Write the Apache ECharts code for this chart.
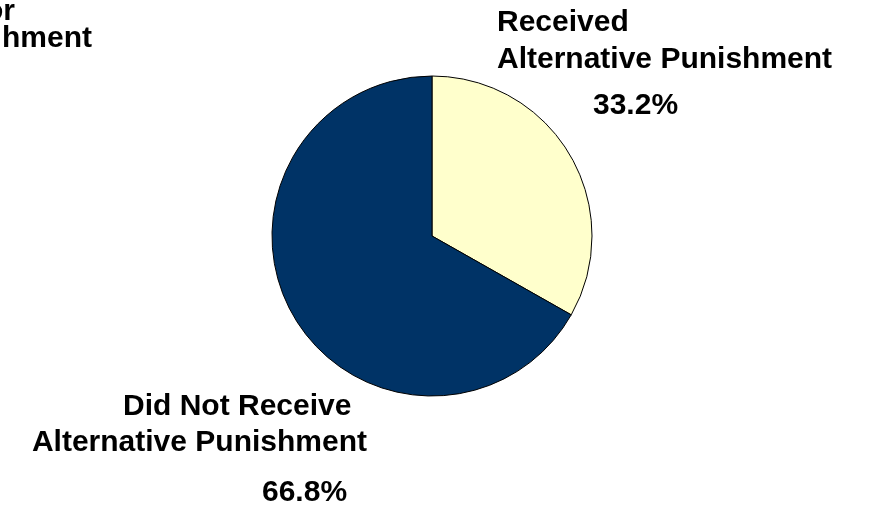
<!DOCTYPE html>
<html>
<head>
<meta charset="utf-8">
<script src="https://cdn.jsdelivr.net/npm/echarts@6/dist/echarts.min.js"></script>
<style>
html,body{margin:0;padding:0;background:#fff;}
#chart{width:872px;height:508px;}
</style>
</head>
<body>
<div id="chart"></div>
<script>
// Data
const categories = ['Received\nAlternative Punishment', 'Did Not Receive\nAlternative Punishment'];
const values = [33.2, 66.8];
const clippedTitleLines = ['or', 'hment'];

const FONT = 'bold 30px "Liberation Sans", Arial, sans-serif';
const sliceColors = ['#FFFFCC', '#003366'];

// label layout (positions only): per category -> line anchors and percent anchor
const labelLayout = [
  { lines: [{x: 497, y: 23, align: 'left'}, {x: 497, y: 60, align: 'left'}], pct: {x: 593, y: 106, align: 'left'} },
  { lines: [{x: 123, y: 407, align: 'left'}, {x: 367, y: 443, align: 'right'}], pct: {x: 262, y: 493, align: 'left'} }
];
const titleLayout = [{x: 15, y: 12, align: 'right'}, {x: 92, y: 39, align: 'right'}];

const graphics = [];
categories.forEach((cat, i) => {
  const lines = cat.split('\n');
  lines.forEach((ln, j) => {
    const p = labelLayout[i].lines[j];
    graphics.push({type: 'text', x: p.x, y: p.y, silent: true,
      style: {text: ln, font: FONT, fill: '#000', textAlign: p.align, textVerticalAlign: 'middle'}});
  });
  const q = labelLayout[i].pct;
  graphics.push({type: 'text', x: q.x, y: q.y, silent: true,
    style: {text: values[i].toFixed(1) + '%', font: FONT, fill: '#000', textAlign: q.align, textVerticalAlign: 'middle'}});
});
clippedTitleLines.forEach((t, j) => {
  const p = titleLayout[j];
  graphics.push({type: 'text', x: p.x, y: p.y, silent: true,
    style: {text: t, font: FONT, fill: '#000', textAlign: p.align, textVerticalAlign: 'middle'}});
});

const chart = echarts.init(document.getElementById('chart'), null, {renderer: 'canvas'});
chart.setOption({
  animation: false,
  backgroundColor: '#ffffff',
  graphic: graphics,
  series: [{
    type: 'pie',
    center: [432, 236],
    radius: 160,
    startAngle: 90,
    clockwise: true,
    label: {show: false},
    labelLine: {show: false},
    emphasis: {disabled: true},
    itemStyle: {borderColor: '#000000', borderWidth: 1},
    data: categories.map((c, i) => ({name: c, value: values[i], itemStyle: {color: sliceColors[i]}}))
  }]
});
</script>
</body>
</html>
